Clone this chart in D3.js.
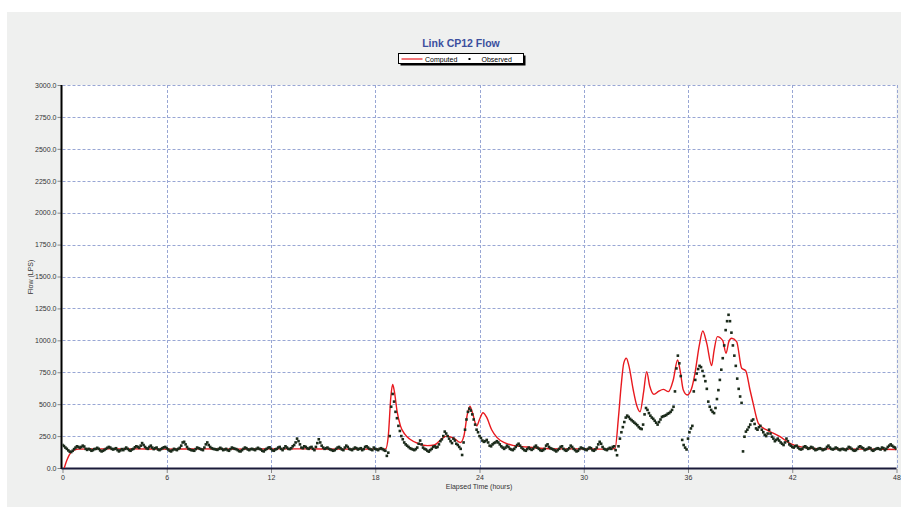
<!DOCTYPE html>
<html><head><meta charset="utf-8">
<script src="https://cdn.jsdelivr.net/npm/d3@7"></script>
<style>body{margin:0;background:#fff;}svg{display:block;font-family:Arial,"Liberation Sans",sans-serif;}</style>
</head><body><svg id="c" width="901" height="507"></svg>
<script>
const title = "Link CP12 Flow";
const xTicks = [0, 6, 12, 18, 24, 30, 36, 42, 48];
const yTicks = [0, 250, 500, 750, 1000, 1250, 1500, 1750, 2000, 2250, 2500, 2750, 3000];
// Computed (hours, LPS)
const compTime = [0.1,0.25,0.4,0.6,0.9,2,4,6,8,10,12,14,16,18,18.6,18.75,18.9,19.0,19.1,19.25,19.45,19.7,20.0,20.5,21.0,21.4,21.8,22.1,22.5,22.9,23.1,23.3,23.45,23.6,23.84,24.0,24.2,24.4,24.7,25.0,25.5,26,26.7,27.5,28.5,30,31,31.8,32.0,32.15,32.3,32.45,32.6,32.85,33.05,33.24,33.45,33.62,33.8,34.04,34.3,34.58,34.87,35.15,35.4,35.55,35.73,35.96,36.2,36.4,36.65,36.85,37.08,37.36,37.5,37.69,38.0,38.19,38.35,38.51,38.8,39.09,39.32,39.57,39.76,39.95,40.05,40.5,40.72,41.3,41.87,42.45,43,44,46,48];
const compFlow = [0,60,105,135,148,150,150,148,150,148,150,150,148,148,150,250,560,655,600,450,330,265,225,190,175,180,225,250,235,200,250,420,485,430,330,380,433,400,300,240,195,175,165,155,150,150,148,152,400,640,820,860,800,611,490,441,600,755,640,577,600,616,598,689,846,760,611,572,620,742,960,1073,976,802,920,1029,997,898,990,1016,990,781,762,611,500,390,350,300,285,245,193,167,155,150,148,145];
// Observed, one value every 5 minutes from 0 h to 48 h (one row per hour)
const obsStepHours = 1/12;
const obsFlow = [
180,172,160,150,138,128,125,135,148,160,170,165,
158,165,175,168,150,142,150,145,135,140,148,150,
158,150,138,130,135,142,150,158,165,160,150,145,
150,155,140,130,138,148,140,150,160,150,140,135,
145,150,162,170,165,158,175,195,180,165,155,150,
165,175,160,148,155,160,145,140,148,155,162,165,
155,145,135,130,140,150,145,140,150,158,175,200,
205,185,165,150,145,140,138,135,148,160,155,150,
145,140,160,185,200,180,165,155,150,148,145,142,
150,158,150,140,145,150,140,135,148,160,155,150,
148,140,132,130,140,150,160,155,145,140,148,150,
145,140,150,158,150,145,135,130,142,150,158,162,
150,138,135,145,150,160,165,150,140,155,170,160,
150,148,155,170,180,200,230,210,185,160,155,170,
165,155,150,160,165,150,140,165,195,225,200,175,
160,150,155,160,150,145,140,135,140,150,160,165,
155,145,140,160,175,165,150,145,140,150,160,155,
145,150,155,140,148,165,170,160,150,145,140,160,
150,145,140,150,155,148,140,135,95,120,250,480,
580,520,440,390,330,290,250,225,200,185,175,165,
155,150,145,140,148,160,190,215,185,160,150,145,
135,128,140,150,165,170,160,165,185,210,225,250,
285,270,250,230,210,195,230,215,190,180,165,150,
102,200,300,380,440,465,450,420,380,340,300,280,
250,235,215,205,210,220,200,175,170,185,195,200,
210,200,185,170,160,150,160,175,165,150,145,140,
150,165,180,190,175,160,150,140,135,148,160,150,
142,150,165,175,160,150,140,135,140,150,175,185,
165,155,150,145,138,130,140,150,165,170,150,140,
135,145,155,175,165,150,140,130,135,148,160,155,
150,145,140,150,160,155,140,135,145,160,185,205,
190,165,150,145,140,150,158,150,165,170,140,100,
170,230,280,320,360,395,410,400,385,375,365,355,
345,335,320,310,305,340,420,470,455,430,410,395,
385,370,355,340,360,380,400,405,410,415,425,430,
440,455,480,600,780,880,820,720,220,180,160,145,
230,280,310,330,600,690,740,775,800,790,760,720,
680,620,520,480,455,440,430,470,540,610,690,770,
860,960,1080,1150,1200,1150,1060,960,880,800,700,620,
560,510,130,245,285,300,320,340,370,380,345,310,
300,320,330,300,280,260,250,270,300,270,245,230,
210,220,230,215,200,190,180,200,230,210,185,175,
165,160,170,175,160,150,145,150,165,170,160,150,
155,165,160,150,140,145,150,155,150,140,145,150,
165,175,160,150,145,150,160,155,145,140,148,150,
145,140,150,165,160,150,140,135,140,150,165,170,
160,155,140,145,150,160,155,140,135,145,150,155,
150,145,160,155,140,150,165,175,185,175,165,160,
150];

const svg = d3.select("#c");
svg.append("rect").attr("x",7).attr("y",12).attr("width",894).attr("height",495).attr("fill","#eff0ef");

const m = {l:62.5, r:896.5, t:85, b:468};
const x = d3.scaleLinear().domain([0,48]).range([m.l,m.r]);
const y = d3.scaleLinear().domain([0,3000]).range([m.b,m.t]);

svg.append("rect").attr("x",m.l).attr("y",m.t).attr("width",m.r-m.l).attr("height",m.b-m.t).attr("fill","#fff");

const gridColor = "#98a6d4";
svg.append("g").selectAll("line").data(yTicks.filter(d=>d>0)).join("line")
  .attr("x1",m.l).attr("x2",m.r).attr("y1",d=>Math.round(y(d))+0.5).attr("y2",d=>Math.round(y(d))+0.5)
  .attr("stroke",gridColor).attr("stroke-width",1).attr("stroke-dasharray","3,2");
svg.append("g").selectAll("line").data(xTicks.filter(d=>d>0)).join("line")
  .attr("x1",d=>Math.round(x(d))+0.5).attr("x2",d=>Math.round(x(d))+0.5).attr("y1",m.t).attr("y2",m.b)
  .attr("stroke",gridColor).attr("stroke-width",1).attr("stroke-dasharray","3,2");

const yAxis = d3.axisLeft(y).tickValues(yTicks).tickFormat(d3.format(".1f")).tickSize(4).tickPadding(1);
const gy = svg.append("g").attr("transform",`translate(${m.l-1},0)`).call(yAxis);
gy.select(".domain").remove();
gy.selectAll("line").attr("stroke","#888");
gy.selectAll("text").attr("font-size","7px").attr("fill","#333");

const xAxis = d3.axisBottom(x).tickValues(xTicks).tickFormat(d3.format("d")).tickSize(4).tickPadding(2);
const gx = svg.append("g").attr("transform",`translate(0,${m.b+1})`).call(xAxis);
gx.select(".domain").remove();
gx.selectAll("line").attr("stroke","#888");
gx.selectAll("text").attr("font-size","7px").attr("fill","#333");

svg.append("line").attr("x1",m.l-1).attr("x2",m.l-1).attr("y1",m.t).attr("y2",m.b+1).attr("stroke","#000").attr("stroke-width",2);
svg.append("line").attr("x1",m.l-1).attr("x2",m.r).attr("y1",m.b+0.5).attr("y2",m.b+0.5).attr("stroke","#1a1a3a").attr("stroke-width",2);

svg.append("clipPath").attr("id","pc").append("rect").attr("x",m.l).attr("y",m.t).attr("width",m.r-m.l).attr("height",m.b-m.t);

const comp = compTime.map((t,i)=>({t, v:compFlow[i]}));
svg.append("path").datum(comp).attr("clip-path","url(#pc)")
  .attr("fill","none").attr("stroke","#e8191e").attr("stroke-width",1.4)
  .attr("d", d3.line().x(d=>x(d.t)).y(d=>y(d.v)).curve(d3.curveMonotoneX));

const obs = obsFlow.map((v,i)=>({t:i*obsStepHours, v}));
svg.append("g").attr("clip-path","url(#pc)").selectAll("rect").data(obs).join("rect")
  .attr("x",d=>x(d.t)-1.3).attr("y",d=>y(d.v)-1.3).attr("width",2.6).attr("height",2.6)
  .attr("fill","#1b2b1b");

svg.append("text").attr("x",461).attr("y",47).attr("text-anchor","middle")
  .attr("font-size","10.5px").attr("font-weight","bold").attr("fill","#3b4f9e").text(title);

const lg = svg.append("g");
lg.append("rect").attr("x",400.5).attr("y",55.5).attr("width",125).attr("height",10).attr("fill","#000");
lg.append("rect").attr("x",398.5).attr("y",53.5).attr("width",125).attr("height",10).attr("fill","#fff").attr("stroke","#000").attr("stroke-width",1);
lg.append("line").attr("x1",401.5).attr("x2",422.5).attr("y1",59).attr("y2",59).attr("stroke","#e8191e").attr("stroke-width",1.2);
lg.append("text").attr("x",425).attr("y",61.5).attr("font-size","7px").attr("fill","#000").text("Computed");
lg.append("rect").attr("x",468.5).attr("y",58).attr("width",2).attr("height",2).attr("fill","#000");
lg.append("text").attr("x",481.5).attr("y",61.5).attr("font-size","7px").attr("fill","#000").text("Observed");

svg.append("text").attr("x",479).attr("y",489).attr("text-anchor","middle").attr("font-size","7px").attr("fill","#333").text("Elapsed Time (hours)");
svg.append("text").attr("transform","translate(33,277) rotate(-90)").attr("text-anchor","middle").attr("font-size","7px").attr("fill","#333").text("Flow (LPS)");
</script></body></html>
